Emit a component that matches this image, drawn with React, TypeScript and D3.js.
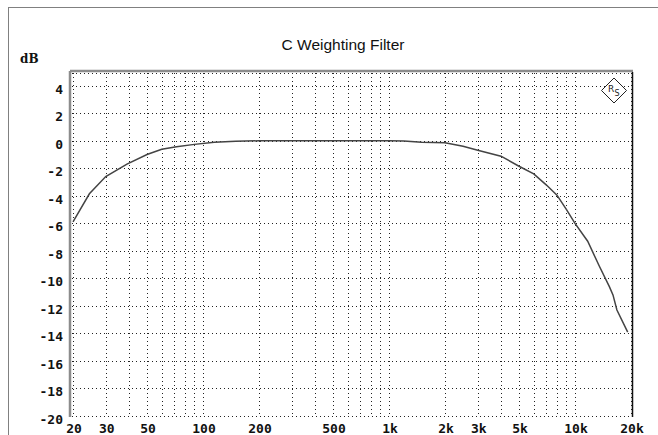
import React from "react";
import * as d3 from "d3";

const freqs = [
  20, 24.5, 30, 39, 50, 60, 72, 90, 115, 150, 200, 500, 1000, 1200, 1500,
  2000, 2500, 3000, 4000, 5000, 6000, 7000, 8000, 9000, 10000, 11700, 13500,
  15300, 16000, 16800, 19200,
];
const levels = [
  -5.9, -3.85, -2.6, -1.7, -1.0, -0.62, -0.43, -0.26, -0.1, -0.04, 0, 0, 0,
  -0.02, -0.1, -0.15, -0.4, -0.68, -1.12, -1.85, -2.4, -3.2, -3.95, -5.0,
  -6.0, -7.3, -9.1, -10.6, -11.2, -12.3, -13.9,
];
const xTickValues = [20, 30, 50, 100, 200, 500, 1000, 2000, 3000, 5000, 10000, 20000];
const xTickLabels = ["20", "30", "50", "100", "200", "500", "1k", "2k", "3k", "5k", "10k", "20k"];
const yTickValues = [4, 2, 0, -2, -4, -6, -8, -10, -12, -14, -16, -18, -20];

const W = 658;
const H = 435;
const left = 70;
const top = 71;
const right = 632;
const bottom = 416;

export default function App() {
  const x = d3.scaleLog().domain([20, 20000]).range([73, 631]);
  const y = d3.scaleLinear().domain([5, -20]).range([72, 416]);

  const line = d3
    .line<number>()
    .x((d, i) => x(freqs[i]))
    .y((d) => y(d));

  const gridX = x.ticks();
  const mono = "'DejaVu Sans Mono', monospace";

  return (
    <svg
      width={W}
      height={H}
      style={{ position: "fixed", left: 0, top: 0, background: "white" }}
    >
      <rect width={W} height={H} fill="white" />
      {/* outer frame */}
      <line x1={8} x2={W} y1={7.5} y2={7.5} stroke="#808080" strokeWidth={1} />
      <line x1={8.5} x2={8.5} y1={7} y2={H} stroke="#808080" strokeWidth={1} />

      <text
        x={343}
        y={50}
        textAnchor="middle"
        fontFamily="'Liberation Sans', Arial, sans-serif"
        fontSize={15.5}
        fill="#111"
      >
        C Weighting Filter
      </text>
      <text x={20} y={63} fontFamily="'DejaVu Serif', serif" fontWeight="bold" fontSize={12} fill="#111">
        dB
      </text>

      {/* grid */}
      <g stroke="#222" strokeWidth={1} strokeDasharray="1,3">
        {gridX.map((f) => (
          <line key={"gx" + f} x1={Math.round(x(f)) + 0.5} x2={Math.round(x(f)) + 0.5} y1={top + 2} y2={bottom} />
        ))}
        {yTickValues.map((v) => (
          <line key={"gy" + v} x1={left + 2} x2={right} y1={Math.round(y(v)) + 0.5} y2={Math.round(y(v)) + 0.5} />
        ))}
        <line x1={left + 2} x2={right} y1={top + 2.5} y2={top + 2.5} />
      </g>

      {/* plot frame */}
      <line x1={left} x2={right + 1} y1={top} y2={top} stroke="#8c8c8c" strokeWidth={2.5} />
      <line x1={left} x2={left} y1={top} y2={bottom + 1} stroke="#8c8c8c" strokeWidth={2.5} />
      <line x1={right + 0.5} x2={right + 0.5} y1={top + 1} y2={bottom + 1} stroke="#111" strokeWidth={1.5} />

      {/* curve */}
      <path d={line(levels) || ""} fill="none" stroke="#444" strokeWidth={1.5} />

      {/* logo */}
      <g transform="translate(614,90.5)">
        <path d="M0,-12.5L12.5,0L0,12.5L-12.5,0Z" fill="white" stroke="#222" strokeWidth={1} />
        <text x={-3} y={1} textAnchor="middle" fontFamily="'DejaVu Sans', sans-serif" fontSize={9} fill="#222">R</text>
        <text x={3} y={5} textAnchor="middle" fontFamily="'DejaVu Sans', sans-serif" fontSize={8} fill="#222">S</text>
      </g>

      {/* y axis labels */}
      <g fontFamily={mono} fontWeight="bold" fontSize={13} fill="#111" textAnchor="end">
        {yTickValues.map((v) => (
          <text key={"yl" + v} x={63} y={y(v) + 8}>
            {v < 0 ? "-" + Math.abs(v) : String(v)}
          </text>
        ))}
      </g>

      {/* x axis labels */}
      <g fontFamily={mono} fontWeight="bold" fontSize={13} fill="#111" textAnchor="middle">
        {xTickValues.map((f, i) => (
          <text key={"xl" + f} x={x(f) + 1} y={432.5}>
            {xTickLabels[i]}
          </text>
        ))}
      </g>
    </svg>
  );
}
